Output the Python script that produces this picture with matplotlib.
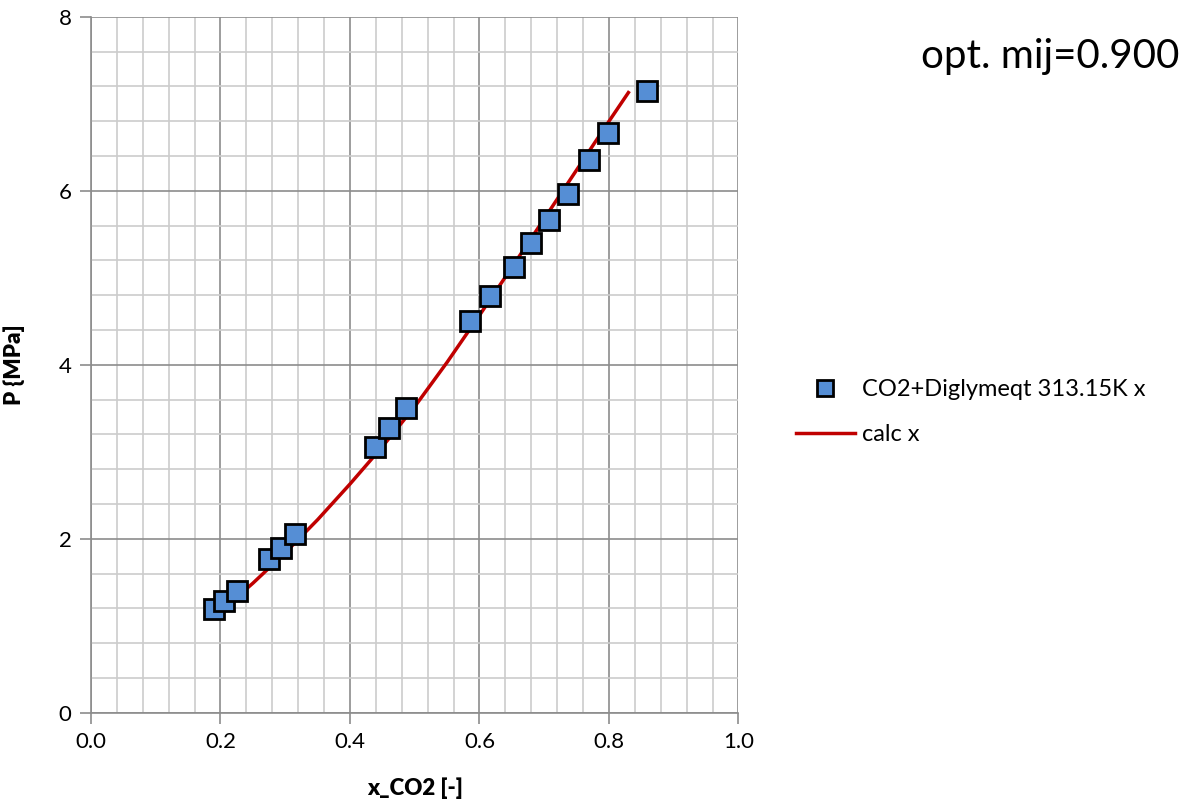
import matplotlib.pyplot as plt
from matplotlib.ticker import MultipleLocator

# measured points, CO2 + Diglyme at 313.15 K
x_meas = [0.190, 0.205, 0.225, 0.275, 0.293, 0.315, 0.438, 0.461, 0.486,
          0.586, 0.617, 0.653, 0.679, 0.708, 0.736, 0.769, 0.799, 0.858]
p_meas = [1.19, 1.28, 1.40, 1.77, 1.90, 2.05, 3.06, 3.27, 3.50,
          4.50, 4.79, 5.13, 5.40, 5.67, 5.96, 6.35, 6.66, 7.15]

# calculated curve
x_calc = [0.19, 0.25, 0.30, 0.35, 0.40, 0.45, 0.50, 0.55, 0.60, 0.65, 0.70, 0.75, 0.80, 0.83]
p_calc = [1.10, 1.49, 1.84, 2.22, 2.63, 3.06, 3.52, 4.03, 4.57, 5.12, 5.68, 6.24, 6.80, 7.13]

plt.rcParams["font.family"] = ["Lato", "DejaVu Sans"]

fig = plt.figure(figsize=(11.88, 8.05), dpi=100)
ax = fig.add_axes([0.0766, 0.1145, 0.545, 0.8645])

ax.plot(x_calc, p_calc, color="#c00000", lw=2.5, label="calc x", zorder=3)
ax.plot(x_meas, p_meas, ls="none", marker="s", ms=14, mfc="#558ed5", mec="black",
        mew=2, label="CO2+Diglymeqt 313.15K x", zorder=4)

ax.set_xlim(0, 1.0)
ax.set_ylim(0, 8)
ax.xaxis.set_major_locator(MultipleLocator(0.2))
ax.xaxis.set_minor_locator(MultipleLocator(0.04))
ax.yaxis.set_major_locator(MultipleLocator(2))
ax.yaxis.set_minor_locator(MultipleLocator(0.4))
ax.set_xticks([0, 0.2, 0.4, 0.6, 0.8, 1.0])
ax.set_xticklabels(["0.0", "0.2", "0.4", "0.6", "0.8", "1.0"])
ax.grid(which="major", color="#8c8c8c", lw=1.2)
ax.grid(which="minor", color="#cccccc", lw=1.2)
ax.set_axisbelow(True)
for s in ["top", "right"]:
    ax.spines[s].set_visible(False)
for s in ["left", "bottom"]:
    ax.spines[s].set_color("#8c8c8c")
    ax.spines[s].set_linewidth(1.2)
ax.tick_params(which="major", length=8, width=1.2, color="#8c8c8c", labelsize=16, pad=6)
ax.tick_params(which="minor", length=0)

ax.set_xlabel("x_CO2 [-]", fontsize=16, fontweight="heavy", labelpad=18)
ax.set_ylabel("P {MPa]", fontsize=16, fontweight="heavy", labelpad=24)

h, l = ax.get_legend_handles_labels()
fig.legend(h[::-1], l[::-1], loc="center left", bbox_to_anchor=(0.652, 0.488),
           frameon=False, fontsize=17, handlelength=2.5, labelspacing=1.0,
           handletextpad=0.3, markerscale=0.8)

fig.text(0.993, 0.93, "opt. mij=0.900", fontsize=29, ha="right", va="center")

fig.savefig("out.png", dpi=100)
